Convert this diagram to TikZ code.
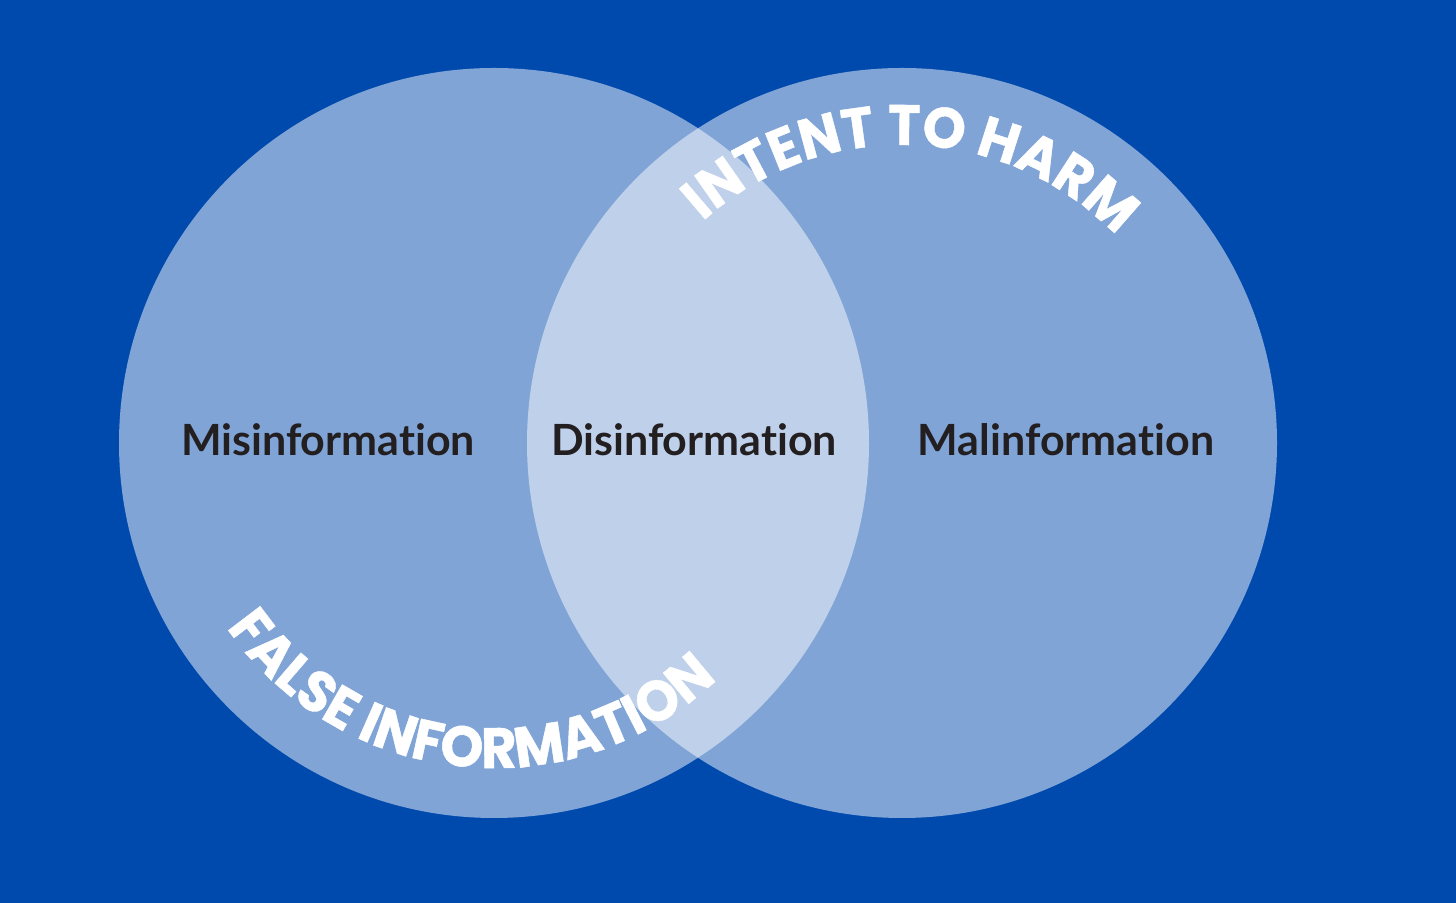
\documentclass[tikz,border=0pt]{standalone}
\usepackage{fontspec}
\setmainfont{Lato}[Ligatures=NoCommon]
\newfontfamily\curvefont{Poppins}[BoldFeatures={FakeBold=0.8,FakeStretch=0.96}]
\usetikzlibrary{decorations.text}
\definecolor{bg}{HTML}{004AAD}
\definecolor{ink}{HTML}{231F20}
\begin{document}
\begin{tikzpicture}[x=0.5pt,y=0.5pt,
  venn/.style={circle, minimum size=375pt, inner sep=0pt, fill=white, fill opacity=0.5, draw=none},
  lbl/.style={font=\fontsize{21.5}{24}\selectfont\bfseries, text=ink, anchor=base, inner sep=0pt}]
\fill[bg] (0,0) rectangle (1456,903);
\useasboundingbox (0,0) rectangle (1456,903);
\node[venn] (L) at (494,460) {};
\node[venn] (R) at (902,460) {};
\node[lbl] (mis) at (328,447) {Misinformation};
\node[lbl] (dis) at (694,447) {Disinformation};
\node[lbl] (mal) at (1066,447) {Malinformation};
\path[decorate, decoration={text along path, text align=center,
  text={|\curvefont\bfseries\fontsize{28.5}{30}\selectfont\color{white}|INTENT TO HARM}}]
  ([shift={(178:149pt)}]R.center) arc[start angle=178, end angle=-2, radius=149pt];
\path[decorate, decoration={text along path, text align=center,
  text={|\curvefont\bfseries\fontsize{28.5}{30}\selectfont\color{white}|FALSE INFORMATION}}]
  ([shift={(174:162.5pt)}]L.center) arc[start angle=174, end angle=354, radius=162.5pt];
\end{tikzpicture}
\end{document}
